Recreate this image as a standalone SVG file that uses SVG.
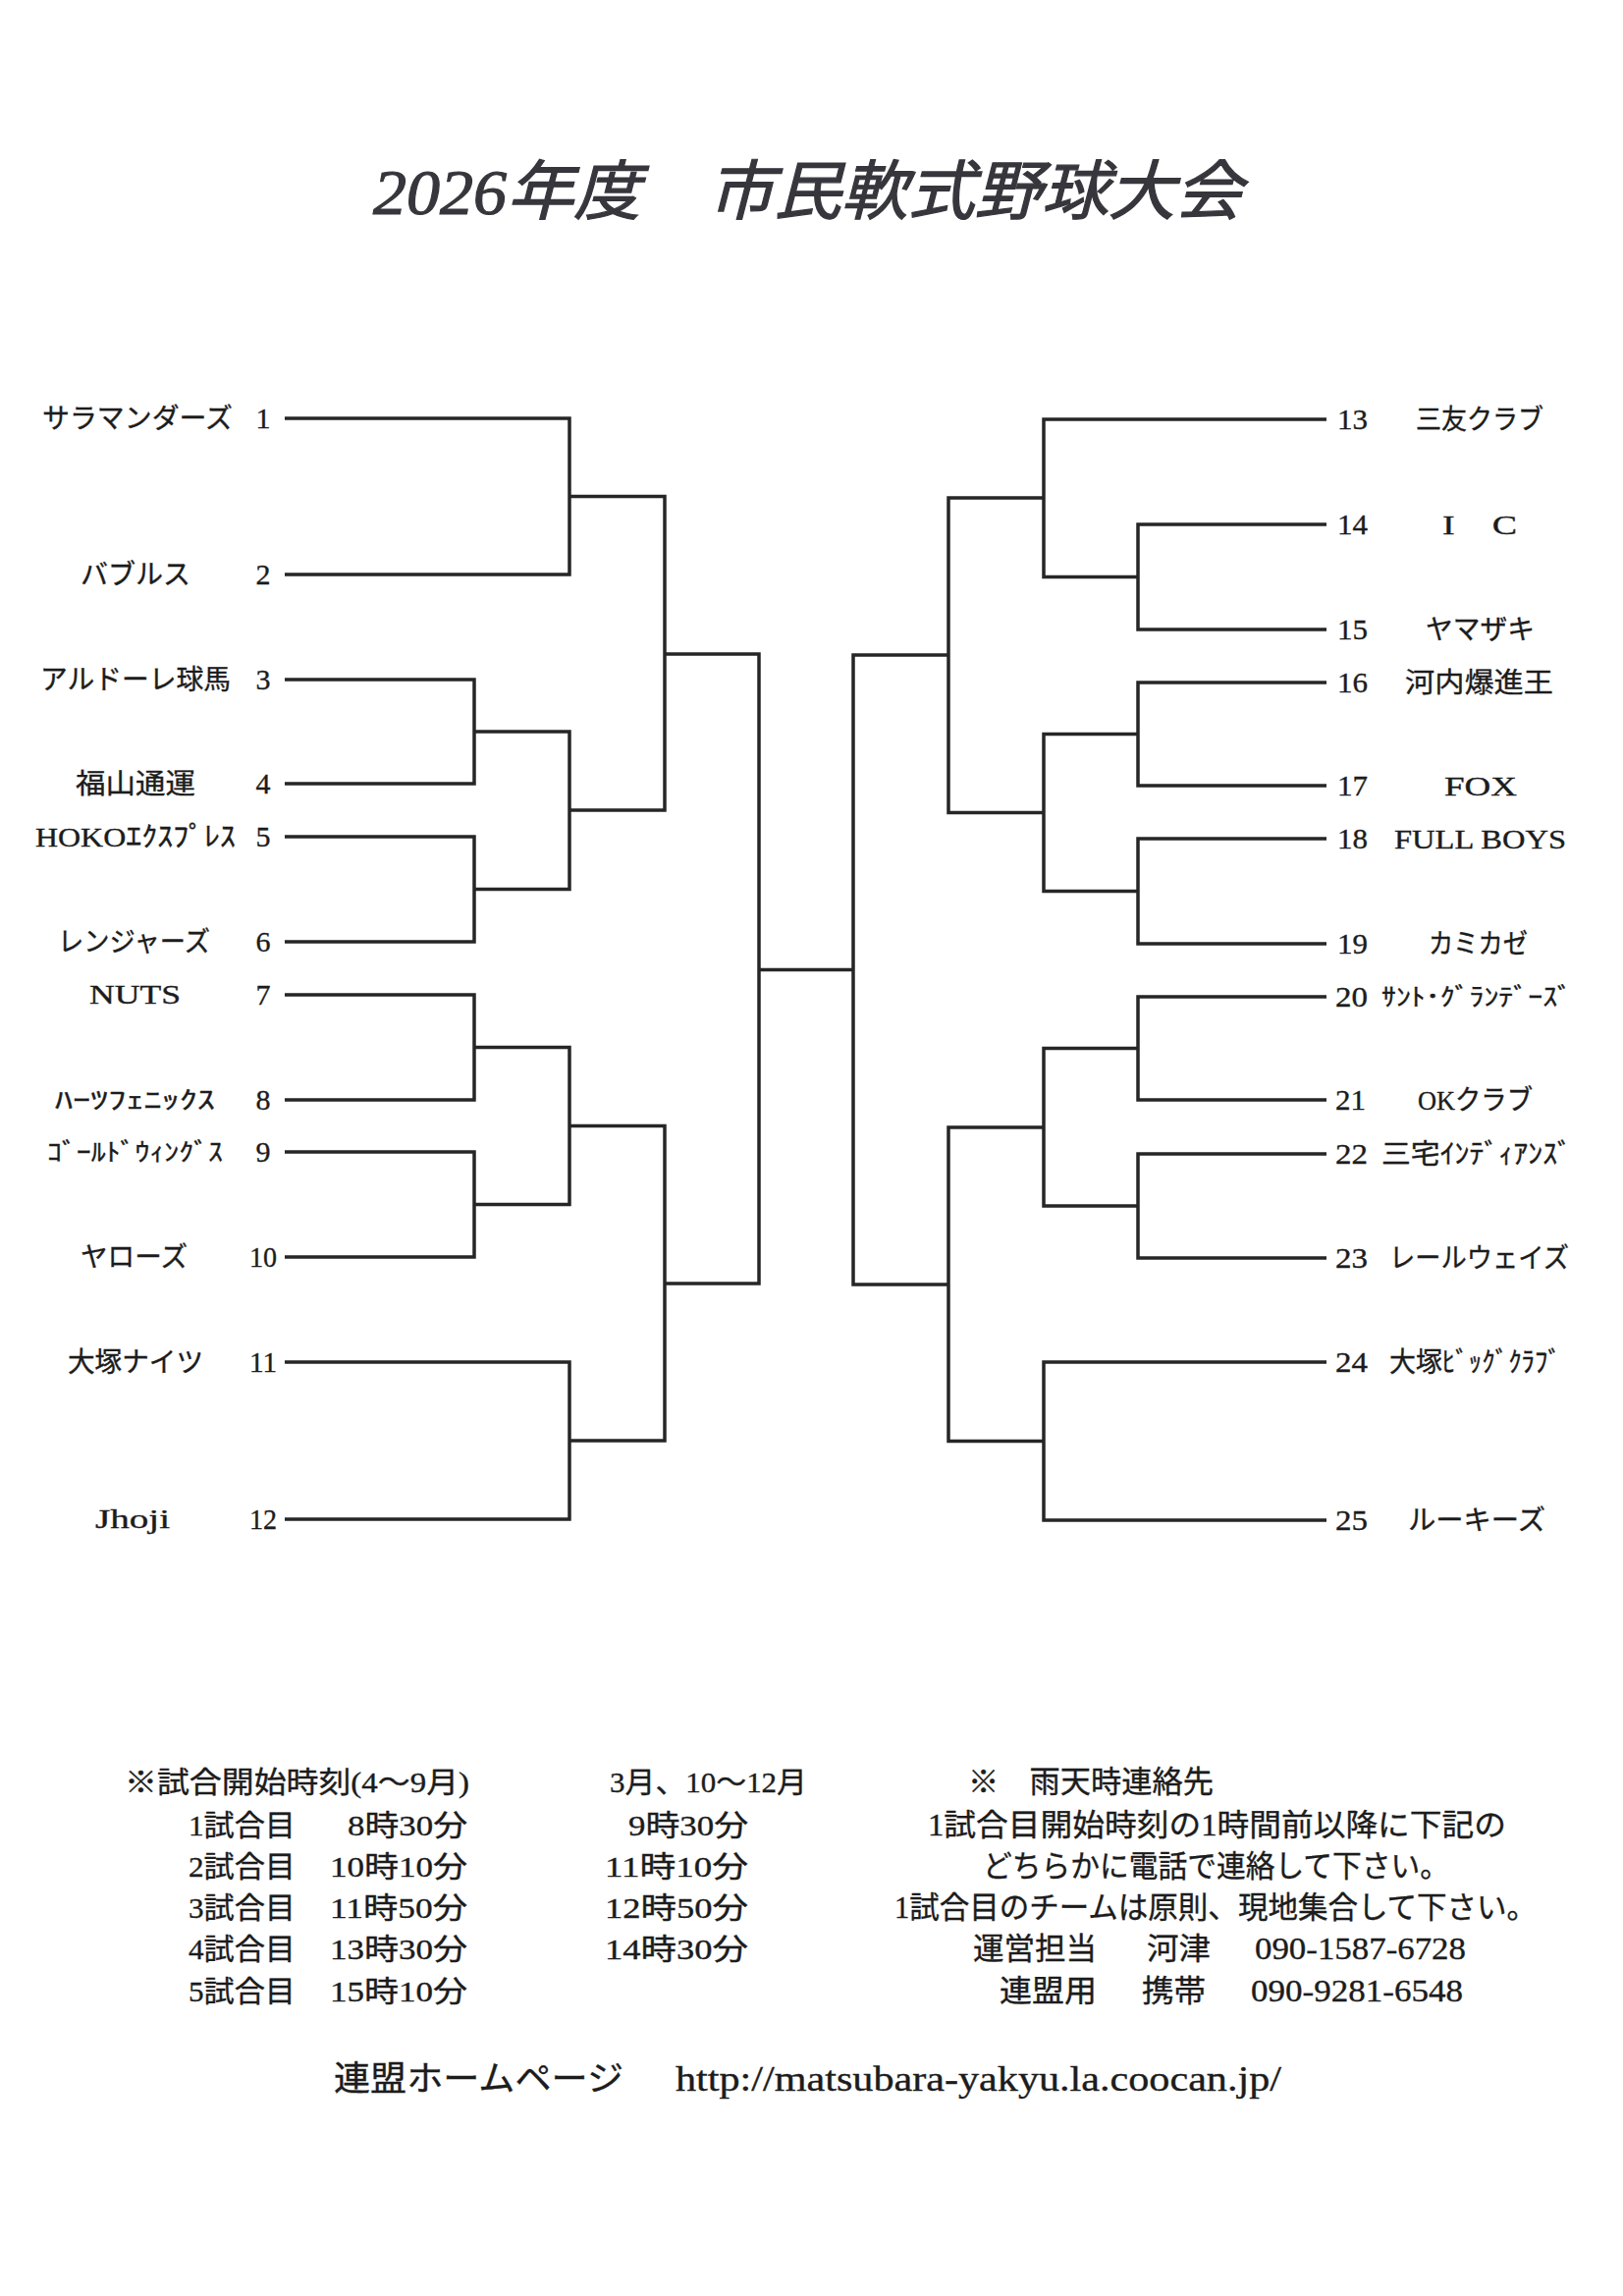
<svg xmlns="http://www.w3.org/2000/svg" width="1653" height="2338" viewBox="0 0 1653 2338">
<style>
.bg{fill:#ffffff}
.ln{fill:none;stroke:#262626;stroke-width:3.5;stroke-linejoin:miter;stroke-linecap:butt}
.t{font-family:'Liberation Serif','Noto Sans CJK JP',serif;fill:#1c1c1c;stroke:#1c1c1c;stroke-width:0.35}
.nm{font-size:28px}
.num{font-size:30px}
.ttl{font-size:66px;font-style:italic;fill:#36363c;stroke:#36363c;stroke-width:1.2}
.ft{font-size:30px}
.fr{font-size:31px}
.url{font-size:35px}
</style>
<rect class="bg" x="0" y="0" width="1653" height="2338"/>

<g id="title">
<text class="t ttl" x="380" y="218" textLength="885" lengthAdjust="spacingAndGlyphs">2026年度　市民軟式野球大会</text>
</g>

<g id="connectors">
<path class="ln" d="M290 426 H580 V585 H290"/>
<path class="ln" d="M580 505.5 H677 V825 H580"/>
<path class="ln" d="M290 692 H483 V798 H290"/>
<path class="ln" d="M290 852 H483 V959 H290"/>
<path class="ln" d="M483 745 H580 V905.5 H483"/>
<path class="ln" d="M677 666 H773 V1307 H677"/>
<path class="ln" d="M290 1013 H483 V1120 H290"/>
<path class="ln" d="M290 1173 H483 V1280 H290"/>
<path class="ln" d="M483 1066.5 H580 V1226.5 H483"/>
<path class="ln" d="M580 1146.5 H677 V1467 H580"/>
<path class="ln" d="M290 1387 H580 V1547 H290"/>
<path class="ln" d="M773 987.5 H869"/>
<path class="ln" d="M1351 534 H1159 V641 H1351"/>
<path class="ln" d="M1351 427 H1063 V587.5 H1159"/>
<path class="ln" d="M1063 507 H966 V827.5 H1063"/>
<path class="ln" d="M1351 695 H1159 V800 H1351"/>
<path class="ln" d="M1351 854 H1159 V961 H1351"/>
<path class="ln" d="M1159 747.5 H1063 V907.5 H1159"/>
<path class="ln" d="M966 667 H869 V1308 H966"/>
<path class="ln" d="M1351 1015 H1159 V1120 H1351"/>
<path class="ln" d="M1351 1175 H1159 V1281 H1351"/>
<path class="ln" d="M1159 1067.5 H1063 V1228 H1159"/>
<path class="ln" d="M1063 1148 H966 V1467.5 H1063"/>
<path class="ln" d="M1351 1387 H1063 V1548 H1351"/>
</g>

<g id="team1"><text class="t nm" x="43" y="436" textLength="194" lengthAdjust="spacingAndGlyphs">サラマンダーズ</text><text class="t num" x="268" y="436" text-anchor="middle">1</text></g>
<g id="team2"><text class="t nm" x="82" y="595" textLength="112" lengthAdjust="spacingAndGlyphs">バブルス</text><text class="t num" x="268" y="595" text-anchor="middle">2</text></g>
<g id="team3"><text class="t nm" x="41" y="702" textLength="194" lengthAdjust="spacingAndGlyphs">アルドーレ球馬</text><text class="t num" x="268" y="702" text-anchor="middle">3</text></g>
<g id="team4"><text class="t nm" x="77" y="808" textLength="122" lengthAdjust="spacingAndGlyphs">福山通運</text><text class="t num" x="268" y="808" text-anchor="middle">4</text></g>
<g id="team5"><text class="t nm" x="36" y="862" textLength="204" lengthAdjust="spacingAndGlyphs">HOKOｴｸｽﾌﾟﾚｽ</text><text class="t num" x="268" y="862" text-anchor="middle">5</text></g>
<g id="team6"><text class="t nm" x="59" y="969" textLength="155" lengthAdjust="spacingAndGlyphs">レンジャーズ</text><text class="t num" x="268" y="969" text-anchor="middle">6</text></g>
<g id="team7"><text class="t nm" x="91" y="1022" textLength="93" lengthAdjust="spacingAndGlyphs">NUTS</text><text class="t num" x="268" y="1023" text-anchor="middle">7</text></g>
<g id="team8"><text class="t nm" x="56" y="1129" textLength="163" lengthAdjust="spacingAndGlyphs" style="font-size:25px">ﾊｰﾂﾌｪﾆｯｸｽ</text><text class="t num" x="268" y="1130" text-anchor="middle">8</text></g>
<g id="team9"><text class="t nm" x="48" y="1182" textLength="179" lengthAdjust="spacingAndGlyphs" style="font-size:25px">ｺﾞｰﾙﾄﾞｳｨﾝｸﾞｽ</text><text class="t num" x="268" y="1183" text-anchor="middle">9</text></g>
<g id="team10"><text class="t nm" x="82" y="1290" textLength="109" lengthAdjust="spacingAndGlyphs">ヤローズ</text><text class="t num" x="268" y="1290" text-anchor="middle" textLength="28" lengthAdjust="spacingAndGlyphs">10</text></g>
<g id="team11"><text class="t nm" x="69" y="1397" textLength="138" lengthAdjust="spacingAndGlyphs">大塚ナイツ</text><text class="t num" x="268" y="1397" text-anchor="middle" textLength="28" lengthAdjust="spacingAndGlyphs">11</text></g>
<g id="team12"><text class="t nm" x="97" y="1556" textLength="76" lengthAdjust="spacingAndGlyphs">Jhoji</text><text class="t num" x="268" y="1557" text-anchor="middle" textLength="28" lengthAdjust="spacingAndGlyphs">12</text></g>

<g id="team13"><text class="t num" x="1362" y="437" textLength="31" lengthAdjust="spacingAndGlyphs">13</text><text class="t nm" x="1442" y="437" textLength="130" lengthAdjust="spacingAndGlyphs">三友クラブ</text></g>
<g id="team14"><text class="t num" x="1362" y="544" textLength="31" lengthAdjust="spacingAndGlyphs">14</text><text class="t nm" x="1469" y="544" textLength="76" lengthAdjust="spacingAndGlyphs">I　C</text></g>
<g id="team15"><text class="t num" x="1362" y="651" textLength="31" lengthAdjust="spacingAndGlyphs">15</text><text class="t nm" x="1452" y="651" textLength="111" lengthAdjust="spacingAndGlyphs">ヤマザキ</text></g>
<g id="team16"><text class="t num" x="1362" y="705" textLength="31" lengthAdjust="spacingAndGlyphs">16</text><text class="t nm" x="1431" y="705" textLength="151" lengthAdjust="spacingAndGlyphs">河内爆進王</text></g>
<g id="team17"><text class="t num" x="1362" y="810" textLength="31" lengthAdjust="spacingAndGlyphs">17</text><text class="t nm" x="1471" y="810" textLength="74" lengthAdjust="spacingAndGlyphs">FOX</text></g>
<g id="team18"><text class="t num" x="1362" y="864" textLength="31" lengthAdjust="spacingAndGlyphs">18</text><text class="t nm" x="1420" y="864" textLength="175" lengthAdjust="spacingAndGlyphs">FULL BOYS</text></g>
<g id="team19"><text class="t num" x="1362" y="971" textLength="31" lengthAdjust="spacingAndGlyphs">19</text><text class="t nm" x="1455" y="971" textLength="101" lengthAdjust="spacingAndGlyphs">カミカゼ</text></g>
<g id="team20"><text class="t num" x="1360" y="1025" textLength="33" lengthAdjust="spacingAndGlyphs">20</text><text class="t nm" x="1407" y="1024" textLength="194" lengthAdjust="spacingAndGlyphs" style="font-size:25px">ｻﾝﾄ･ｸﾞﾗﾝﾃﾞｰｽﾞ</text></g>
<g id="team21"><text class="t num" x="1360" y="1130" textLength="31" lengthAdjust="spacingAndGlyphs">21</text><text class="t nm" x="1444" y="1130" textLength="117" lengthAdjust="spacingAndGlyphs">OKクラブ</text></g>
<g id="team22"><text class="t num" x="1360" y="1185" textLength="33" lengthAdjust="spacingAndGlyphs">22</text><text class="t nm" x="1407" y="1185" textLength="194" lengthAdjust="spacingAndGlyphs">三宅ｲﾝﾃﾞｨｱﾝｽﾞ</text></g>
<g id="team23"><text class="t num" x="1360" y="1291" textLength="33" lengthAdjust="spacingAndGlyphs">23</text><text class="t nm" x="1415" y="1291" textLength="183" lengthAdjust="spacingAndGlyphs">レールウェイズ</text></g>
<g id="team24"><text class="t num" x="1360" y="1397" textLength="33" lengthAdjust="spacingAndGlyphs">24</text><text class="t nm" x="1415" y="1397" textLength="175" lengthAdjust="spacingAndGlyphs">大塚ﾋﾞｯｸﾞｸﾗﾌﾞ</text></g>
<g id="team25"><text class="t num" x="1360" y="1558" textLength="33" lengthAdjust="spacingAndGlyphs">25</text><text class="t nm" x="1434" y="1558" textLength="140" lengthAdjust="spacingAndGlyphs">ルーキーズ</text></g>

<g id="schedule">
<text class="t ft" x="127" y="1825" textLength="351" lengthAdjust="spacingAndGlyphs">※試合開始時刻(4～9月)</text>
<text class="t ft" x="621" y="1825" textLength="201" lengthAdjust="spacingAndGlyphs">3月、10～12月</text>
<text class="t ft" x="192" y="1869" textLength="109" lengthAdjust="spacingAndGlyphs">1試合目</text>
<text class="t ft" x="354" y="1869" textLength="122" lengthAdjust="spacingAndGlyphs">8時30分</text>
<text class="t ft" x="640" y="1869" textLength="122" lengthAdjust="spacingAndGlyphs">9時30分</text>
<text class="t ft" x="192" y="1911" textLength="109" lengthAdjust="spacingAndGlyphs">2試合目</text>
<text class="t ft" x="336" y="1911" textLength="140" lengthAdjust="spacingAndGlyphs">10時10分</text>
<text class="t ft" x="616" y="1911" textLength="146" lengthAdjust="spacingAndGlyphs">11時10分</text>
<text class="t ft" x="192" y="1953" textLength="109" lengthAdjust="spacingAndGlyphs">3試合目</text>
<text class="t ft" x="336" y="1953" textLength="140" lengthAdjust="spacingAndGlyphs">11時50分</text>
<text class="t ft" x="616" y="1953" textLength="146" lengthAdjust="spacingAndGlyphs">12時50分</text>
<text class="t ft" x="192" y="1995" textLength="109" lengthAdjust="spacingAndGlyphs">4試合目</text>
<text class="t ft" x="336" y="1995" textLength="140" lengthAdjust="spacingAndGlyphs">13時30分</text>
<text class="t ft" x="616" y="1995" textLength="146" lengthAdjust="spacingAndGlyphs">14時30分</text>
<text class="t ft" x="192" y="2038" textLength="109" lengthAdjust="spacingAndGlyphs">5試合目</text>
<text class="t ft" x="336" y="2038" textLength="140" lengthAdjust="spacingAndGlyphs">15時10分</text>
</g>

<g id="rain-contact">
<text class="t fr" x="986" y="1825" textLength="250" lengthAdjust="spacingAndGlyphs">※　雨天時連絡先</text>
<text class="t fr" x="945" y="1869" textLength="589" lengthAdjust="spacingAndGlyphs">1試合目開始時刻の1時間前以降に下記の</text>
<text class="t fr" x="1001" y="1911" textLength="475" lengthAdjust="spacingAndGlyphs">どちらかに電話で連絡して下さい。</text>
<text class="t fr" x="911" y="1953" textLength="654" lengthAdjust="spacingAndGlyphs">1試合目のチームは原則、現地集合して下さい。</text>
<text class="t fr" x="991" y="1995" textLength="126" lengthAdjust="spacingAndGlyphs">運営担当</text>
<text class="t fr" x="1168" y="1995" textLength="65" lengthAdjust="spacingAndGlyphs">河津</text>
<text class="t fr" x="1278" y="1995" textLength="215" lengthAdjust="spacingAndGlyphs">090-1587-6728</text>
<text class="t fr" x="1018" y="2038" textLength="99" lengthAdjust="spacingAndGlyphs">連盟用</text>
<text class="t fr" x="1163" y="2038" textLength="65" lengthAdjust="spacingAndGlyphs">携帯</text>
<text class="t fr" x="1274" y="2038" textLength="216" lengthAdjust="spacingAndGlyphs">090-9281-6548</text>
</g>

<g id="homepage">
<text class="t url" x="340" y="2129" textLength="295" lengthAdjust="spacingAndGlyphs">連盟ホームページ</text>
<text class="t url" x="688" y="2129" textLength="617" lengthAdjust="spacingAndGlyphs">http://matsubara-yakyu.la.coocan.jp/</text>
</g>
</svg>
